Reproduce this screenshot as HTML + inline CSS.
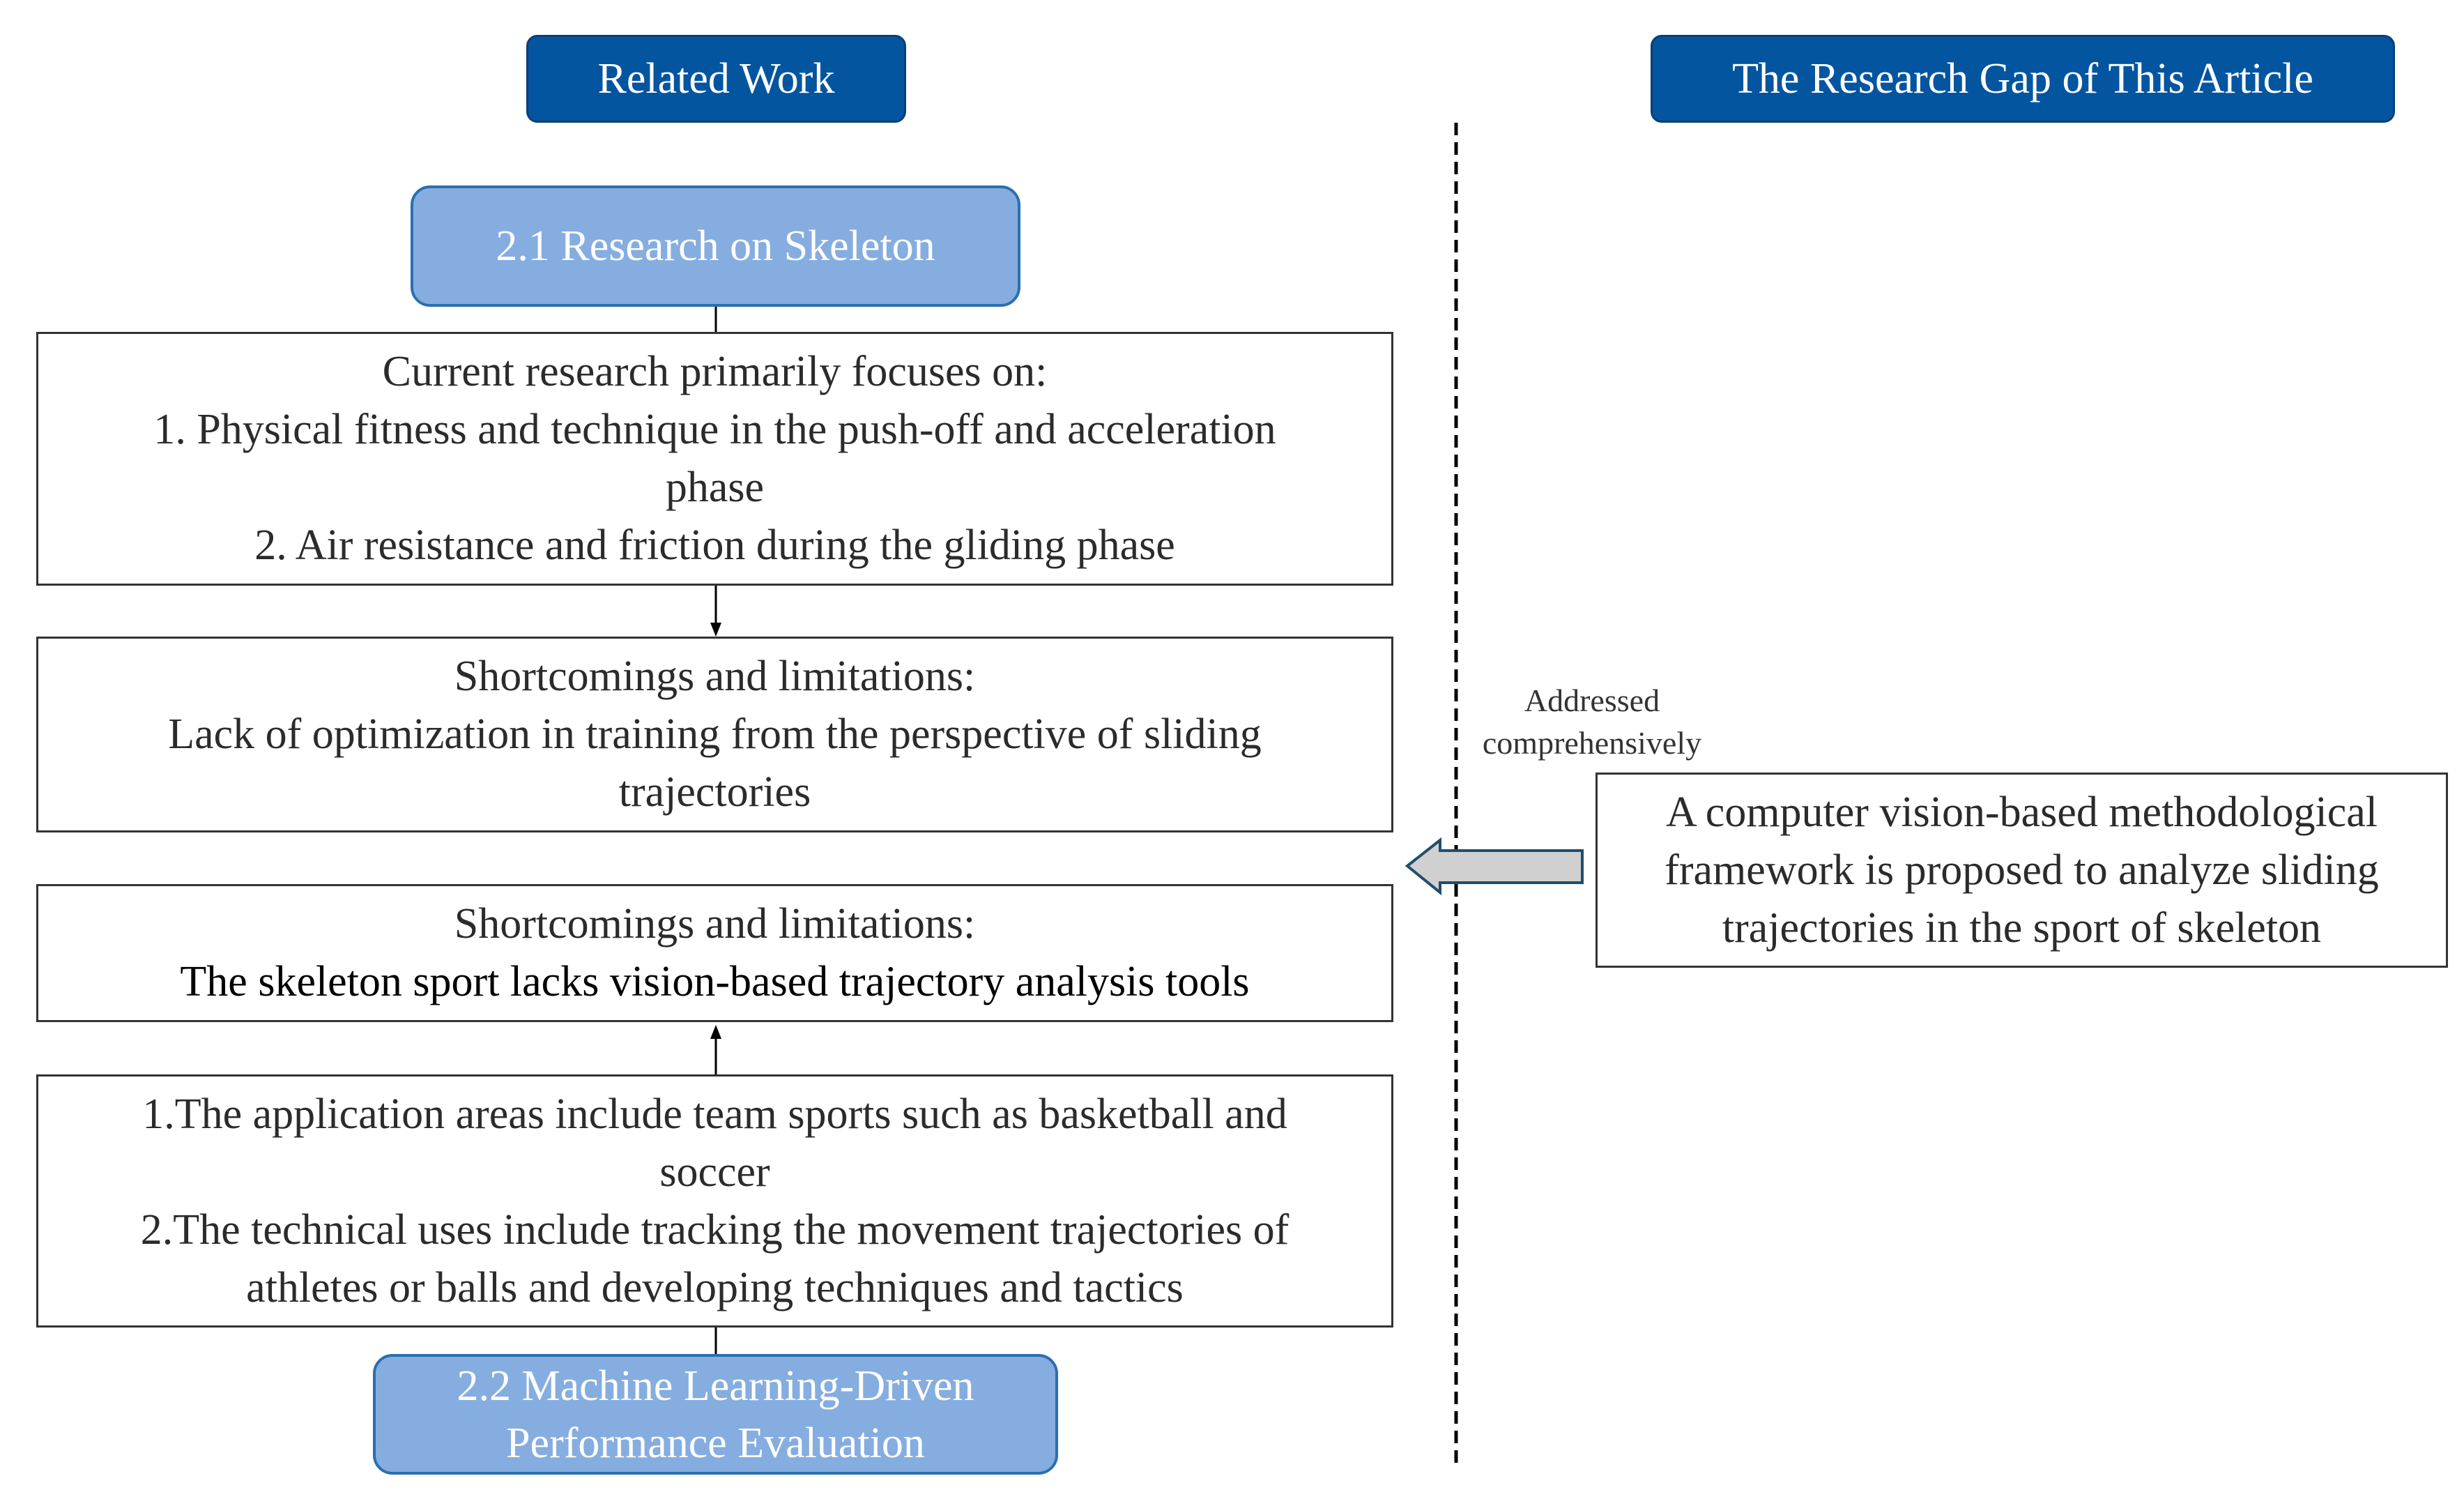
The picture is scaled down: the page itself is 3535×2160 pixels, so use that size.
<!DOCTYPE html>
<html><head><meta charset="utf-8"><style>
html,body{margin:0;padding:0;background:#fff;}
#c{position:relative;width:3535px;height:2160px;overflow:hidden;font-family:"Liberation Serif",serif;}
.b{position:absolute;box-sizing:border-box;display:flex;align-items:center;justify-content:center;text-align:center;}
.hd{background:#0455a0;border:3px solid #0a3f78;border-radius:16px;color:#fff;font-size:62px;}
.lb{background:#85ade0;border:4px solid #2a6fb0;border-radius:28px;color:#fff;font-size:62px;line-height:82px;}
.w{border:3px solid #333;background:#fff;color:#2b2b2b;font-size:62px;line-height:83px;}
</style></head><body><div id="c">
<div class="b hd" style="left:755px;top:50px;width:545px;height:126px;">Related Work</div>
<div class="b hd" style="left:2368px;top:50px;width:1068px;height:126px;">The Research Gap of This Article</div>
<div class="b lb" style="left:589px;top:266px;width:875px;height:174px;">2.1 Research on Skeleton</div>
<svg style="position:absolute;left:0;top:0" width="3535" height="2160">
<line x1="1027" y1="440" x2="1027" y2="476" stroke="#000" stroke-width="3"/>
<line x1="1027" y1="840" x2="1027" y2="895" stroke="#000" stroke-width="3"/>
<polygon points="1019,893 1035,893 1027,913" fill="#000"/>
<line x1="1027" y1="1541" x2="1027" y2="1488" stroke="#000" stroke-width="3"/>
<polygon points="1019,1490 1035,1490 1027,1470" fill="#000"/>
<line x1="1027" y1="1904" x2="1027" y2="1942" stroke="#000" stroke-width="3"/>
<line x1="2089" y1="176" x2="2089" y2="2105" stroke="#000" stroke-width="5" stroke-dasharray="18,10"/>
<polygon points="2019,1242 2066,1205 2066,1220 2270,1220 2270,1266 2066,1266 2066,1280" fill="#d0d0d0" stroke="#1f4e6e" stroke-width="4"/>
</svg>
<div class="b w" style="left:52px;top:476px;width:1947px;height:364px;">Current research primarily focuses on:<br>1. Physical fitness and technique in the push-off and acceleration<br>phase<br>2. Air resistance and friction during the gliding phase</div>
<div class="b w" style="left:52px;top:913px;width:1947px;height:281px;">Shortcomings and limitations:<br>Lack of optimization in training from the perspective of sliding<br>trajectories</div>
<div class="b w" style="left:52px;top:1268px;width:1947px;height:198px;"><span>Shortcomings and limitations:<br><span style="color:#000">The skeleton sport lacks vision-based trajectory analysis tools</span></span></div>
<div class="b w" style="left:52px;top:1541px;width:1947px;height:363px;">1.The application areas include team sports such as basketball and<br>soccer<br>2.The technical uses include tracking the movement trajectories of<br>athletes or balls and developing techniques and tactics</div>
<div class="b lb" style="left:535px;top:1942px;width:983px;height:173px;">2.2 Machine Learning-Driven<br>Performance Evaluation</div>
<div class="b" style="left:2084px;top:975px;width:400px;height:120px;font-size:46px;line-height:61px;color:#333;">Addressed<br>comprehensively</div>
<div class="b w" style="left:2289px;top:1108px;width:1223px;height:280px;">A computer vision-based methodological<br>framework is proposed to analyze sliding<br>trajectories in the sport of skeleton</div>
</div></body></html>
